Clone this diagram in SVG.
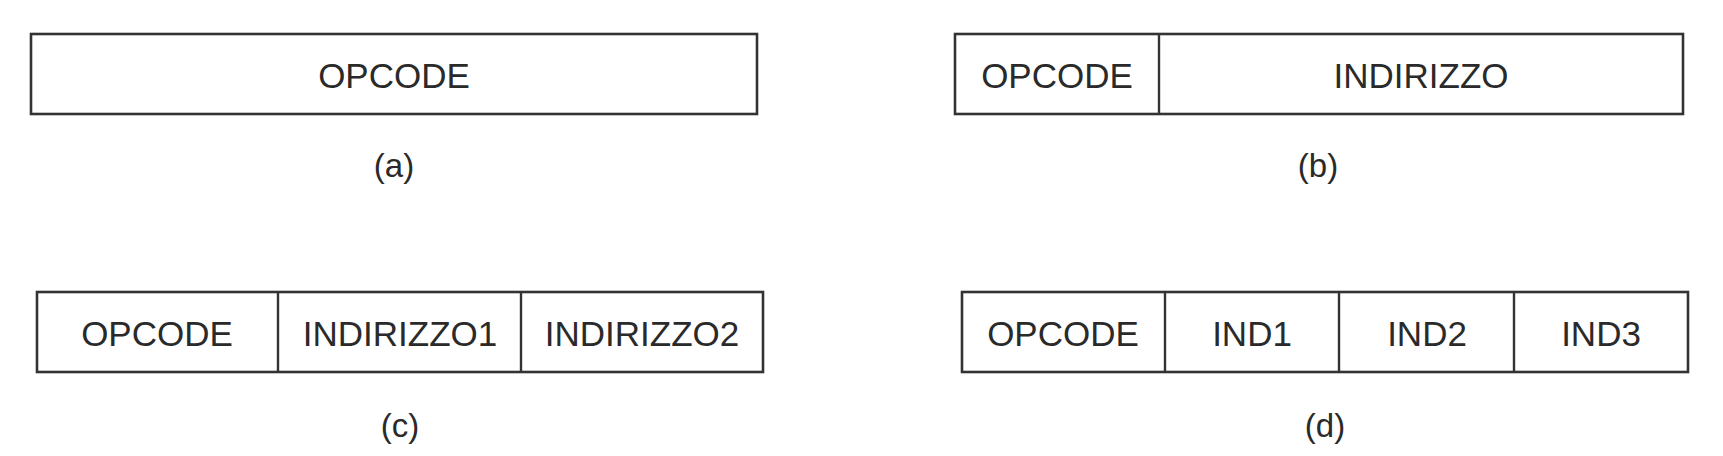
<svg xmlns="http://www.w3.org/2000/svg" width="1723" height="456" viewBox="0 0 1723 456">
<style>
.box{fill:#fff;stroke:#333;stroke-width:2.6}
.div{stroke:#333;stroke-width:2.4}
.t{font-family:"Liberation Sans",Arial,sans-serif;font-size:35px;fill:#2a2a2a;text-anchor:middle}
.cap{font-family:"Liberation Sans",Arial,sans-serif;font-size:33px;fill:#2a2a2a;text-anchor:middle}
</style>
<rect width="1723" height="456" fill="#fff"/>
<g id="format-a">
<rect class="box" x="31" y="34" width="726" height="80"/>
<text class="t" x="394" y="88">OPCODE</text>
<text class="cap" x="394" y="177">(a)</text>
</g>
<g id="format-b">
<rect class="box" x="955" y="34" width="728" height="80"/>
<line class="div" x1="1159" y1="34" x2="1159" y2="114"/>
<text class="t" x="1057" y="88">OPCODE</text>
<text class="t" x="1421" y="88">INDIRIZZO</text>
<text class="cap" x="1318" y="177">(b)</text>
</g>
<g id="format-c">
<rect class="box" x="37" y="292" width="726" height="80"/>
<line class="div" x1="278" y1="292" x2="278" y2="372"/>
<line class="div" x1="521" y1="292" x2="521" y2="372"/>
<text class="t" x="157" y="346">OPCODE</text>
<text class="t" x="400" y="346">INDIRIZZO1</text>
<text class="t" x="642" y="346">INDIRIZZO2</text>
<text class="cap" x="400" y="437">(c)</text>
</g>
<g id="format-d">
<rect class="box" x="962" y="292" width="726" height="80"/>
<line class="div" x1="1165" y1="292" x2="1165" y2="372"/>
<line class="div" x1="1339" y1="292" x2="1339" y2="372"/>
<line class="div" x1="1514" y1="292" x2="1514" y2="372"/>
<text class="t" x="1063" y="346">OPCODE</text>
<text class="t" x="1252" y="346">IND1</text>
<text class="t" x="1427" y="346">IND2</text>
<text class="t" x="1601" y="346">IND3</text>
<text class="cap" x="1325" y="437">(d)</text>
</g>
<g id="connectors"/>
</svg>
